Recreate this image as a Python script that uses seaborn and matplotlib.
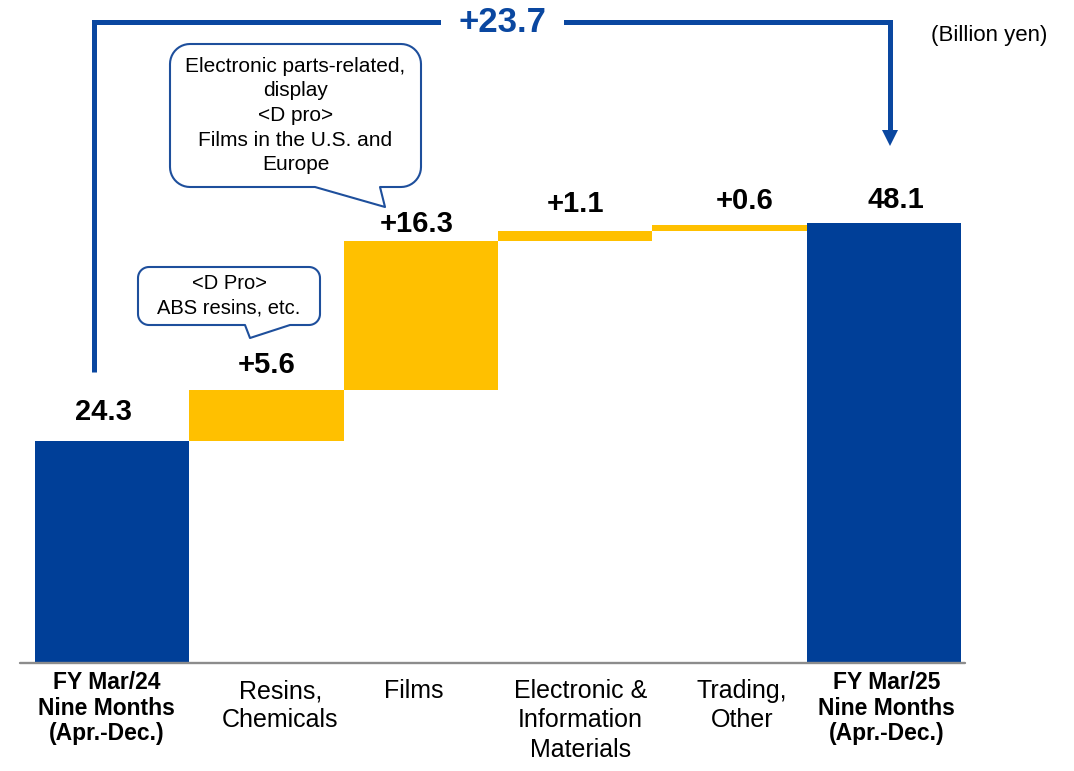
import numpy as np
import pandas as pd
import matplotlib
matplotlib.use("Agg")
import matplotlib.pyplot as plt
from matplotlib.patches import Polygon
import seaborn as sns

# ---------------- data ----------------
categories = ["FY Mar/24\nNine Months\n(Apr.-Dec.)", "Resins,\nChemicals", "Films",
              "Electronic &\nInformation\nMaterials", "Trading,\nOther",
              "FY Mar/25\nNine Months\n(Apr.-Dec.)"]
values = [24.3, 5.6, 16.3, 1.1, 0.6, 48.1]
kinds = ["total", "delta", "delta", "delta", "delta", "total"]
value_labels = ["24.3", "+5.6", "+16.3", "+1.1", "+0.6", "48.1"]
total_change_label = "+23.7"
unit_label = "(Billion yen)"
callout_films = "Electronic parts-related,\ndisplay\n<D pro>\nFilms in the U.S. and\nEurope"
callout_resins = "<D Pro>\nABS resins, etc."

# ---------------- style ----------------
BLUE = "#003F98"
YELLOW = "#FFC000"
LINE_BLUE = "#0A47A0"
EDGE_BLUE = "#1E4F9C"
W, H = 1074, 771

sns.set_theme(style="white")
plt.rcParams["font.family"] = ["Liberation Sans", "DejaVu Sans"]

# waterfall table
starts, ends = [], []
running = 0.0
for v, k in zip(values, kinds):
    if k == "total":
        starts.append(0.0)
        ends.append(v)
        running = v
    else:
        starts.append(running)
        ends.append(running + v)
        running += v
df = pd.DataFrame({"cat": categories, "start": starts, "end": ends, "kind": kinds})

fig = plt.figure(figsize=(W / 100, H / 100), dpi=100)
base_px = 662.5
scale = 9.13  # px per unit
ax = fig.add_axes([0, (H - base_px) / H, 1, base_px / H])

sns.barplot(data=df, x="cat", y="end", hue="kind", order=categories,
            palette={"total": BLUE, "delta": YELLOW}, dodge=False, width=1.0,
            saturation=1, errorbar=None, legend=False, linewidth=0, ax=ax)
sns.barplot(data=df, x="cat", y="start", order=categories, color="white",
            width=1.0, saturation=1, errorbar=None, linewidth=0, ax=ax)

bar_px = 154.3
left_px = 35
x_lo = -0.5 - left_px / bar_px
x_hi = x_lo + W / bar_px
ax.set_xlim(x_lo, x_hi)
ax.set_ylim(0, base_px / scale)
ax.set_xticks([])
ax.set_yticks([])
ax.set_xlabel("")
ax.set_ylabel("")
for s in ax.spines.values():
    s.set_visible(False)

# baseline axis line
ax.axhline(0, xmin=20 / W, xmax=965 / W, color="#8c8c8c", lw=1.7, zorder=5, clip_on=False)

# category labels
cat_dx = [-4, 10, -5, 4, 9, 2]  # points
for i, lab in enumerate(categories):
    bold = kinds[i] == "total"
    ax.annotate(lab, xy=(i, 0), xycoords="data", xytext=(cat_dx[i], -6 if bold else -12),
                textcoords="offset points", ha="center", va="top",
                fontsize=16.5 if bold else 18, fontweight="bold" if bold else "normal",
                linespacing=1.15 if bold else 1.28, color="black", annotation_clip=False)

# value labels
lab_offsets = [(-6, 15), (0, 12), (-3, 6), (0, 13.5), (11, 12), (9, 11)]
for i, (lab, top) in enumerate(zip(value_labels, ends)):
    dx, dy = lab_offsets[i]
    ax.annotate(lab, xy=(i, top), xytext=(dx, dy), textcoords="offset points",
                ha="center", va="baseline", fontsize=21, fontweight="bold", color="black")

# bracket with total change
def px2y(p):
    return (base_px - p) / scale

xl_b, xr_b = -0.12, 5.04
y_bot, y_top, y_arrow = px2y(372), px2y(22), px2y(138)
ax.plot([xl_b, xl_b, xr_b, xr_b], [y_bot, y_top, y_top, y_arrow], color=LINE_BLUE,
        lw=3.6, solid_joinstyle="miter", solid_capstyle="butt", clip_on=False, zorder=6)
ax.plot([xr_b], [y_arrow], marker="v", markersize=11.5, color=LINE_BLUE,
        markeredgewidth=0, clip_on=False, zorder=7)
ax.text(2.53, y_top, total_change_label, ha="center", va="center",
        fontsize=25, fontweight="bold", color=LINE_BLUE, zorder=8,
        bbox=dict(boxstyle="square,pad=0.5", facecolor="white", edgecolor="none"))

fig.text(1047 / W, 1 - 35 / H, unit_label, ha="right", va="center", fontsize=16, color="black")

# callouts (pixel layout, y downward)
def callout(box, r, tail, text, fs):
    x0, y0, x1, y1 = box
    tl, tx, ty, tr = tail
    pts = []
    def arc(cx, cy, a0, a1):
        for t in np.linspace(np.radians(a0), np.radians(a1), 12):
            pts.append((cx + r * np.cos(t), cy + r * np.sin(t)))
    arc(x1 - r, y0 + r, -90, 0)
    arc(x1 - r, y1 - r, 0, 90)
    pts.append((tr, y1))
    pts.append((tx, ty))
    pts.append((tl, y1))
    arc(x0 + r, y1 - r, 90, 180)
    arc(x0 + r, y0 + r, 180, 270)
    fpts = [(x / W, 1 - y / H) for x, y in pts]
    poly = Polygon(fpts, closed=True, transform=fig.transFigure, facecolor="white",
                   edgecolor=EDGE_BLUE, lw=1.5, joinstyle="round", zorder=2)
    fig.add_artist(poly)
    fig.text((x0 + x1) / 2 / W, 1 - (y0 + y1) / 2 / H, text, ha="center", va="center",
             fontsize=fs, linespacing=1.38, color="black", zorder=3)

callout((170, 44, 421, 187), 20, (315, 385, 207, 380), callout_films, 15)
callout((138, 267, 320, 325), 11, (245, 250, 338, 290), callout_resins, 14.5)

fig.savefig("out.png", dpi=100)
